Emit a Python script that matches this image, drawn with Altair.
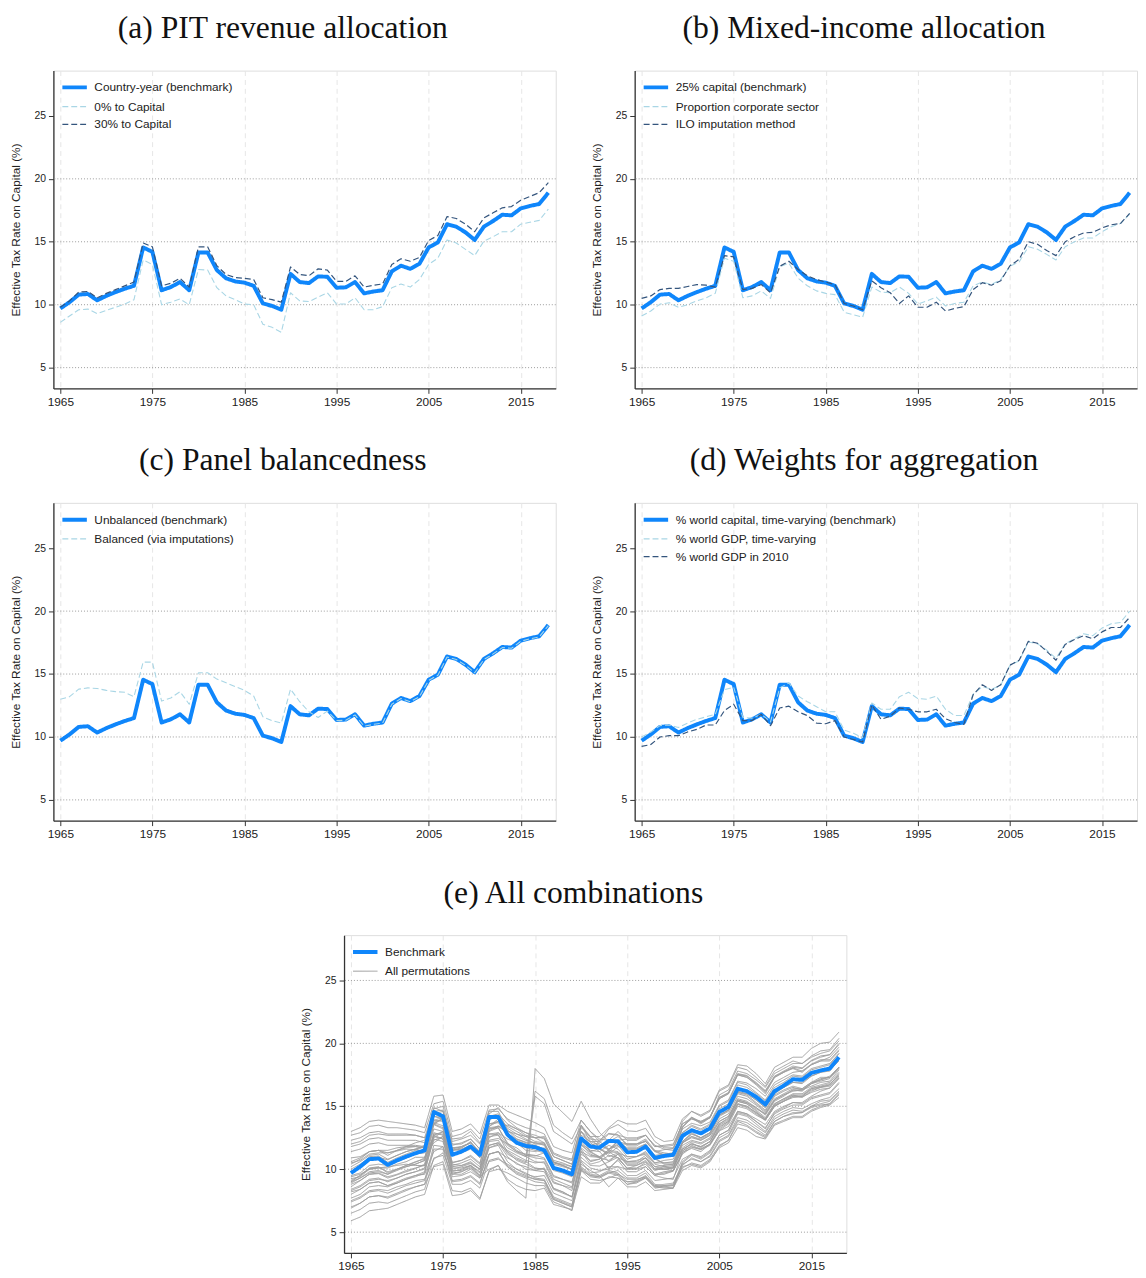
import altair as alt
import pandas as pd

years = list(range(1965, 2019))

benchmark = [
    9.7, 10.2, 10.8, 10.85, 10.35, 10.7, 11.0, 11.27, 11.5, 14.55,
    14.2, 11.15, 11.4, 11.8, 11.15, 14.15, 14.15, 12.75, 12.1, 11.85,
    11.75, 11.5, 10.1, 9.9, 9.6, 12.45, 11.8, 11.72, 12.25, 12.22,
    11.35, 11.38, 11.8, 10.9, 11.05, 11.15, 12.65, 13.1, 12.85, 13.25,
    14.55, 14.95, 16.4, 16.2, 15.75, 15.15, 16.2, 16.65, 17.15, 17.1,
    17.65, 17.85, 18.0, 18.9]

pit_zero = [
    8.6, 9.1, 9.6, 9.65, 9.3, 9.55, 9.8, 10.05, 10.4, 13.55,
    13.2, 10.0, 10.2, 10.45, 10.0, 12.8, 12.75, 11.35, 10.7, 10.4,
    10.05, 10.0, 8.45, 8.2, 7.8, 10.95, 10.3, 10.25, 10.6, 10.95,
    10.05, 10.05, 10.55, 9.6, 9.6, 9.85, 11.35, 11.65, 11.4, 12.0,
    13.2, 13.7, 15.15, 14.9, 14.4, 13.9, 15.05, 15.4, 15.8, 15.8,
    16.4, 16.55, 16.7, 17.6]

pit_thirty = [
    9.8, 10.3, 11.0, 11.05, 10.55, 10.9, 11.2, 11.5, 11.8, 14.9,
    14.6, 11.5, 11.7, 12.1, 11.4, 14.6, 14.6, 13.1, 12.4, 12.15,
    12.1, 12.0, 10.55, 10.4, 10.2, 13.0, 12.4, 12.3, 12.85, 12.75,
    11.85, 11.85, 12.3, 11.4, 11.55, 11.65, 13.2, 13.65, 13.45, 13.75,
    15.1, 15.5, 17.0, 16.85, 16.4, 15.8, 16.9, 17.3, 17.7, 17.8,
    18.3, 18.6, 18.9, 19.7]

mix_prop = [
    9.1, 9.5, 10.05, 10.15, 9.8, 10.0, 10.3, 10.55, 10.9, 13.7,
    13.45, 10.55, 10.7, 11.1, 10.5, 13.0, 13.3, 12.1, 11.5, 11.1,
    10.9, 10.8, 9.4, 9.2, 9.0, 11.4, 11.0, 10.95, 11.4, 10.9,
    10.05, 10.3, 10.6, 9.9, 10.1, 10.2, 11.5, 11.8, 11.6, 12.0,
    13.05, 13.4, 14.6, 14.4, 14.0, 13.55, 14.6, 15.0, 15.3, 15.3,
    15.8, 16.2, 16.45, 17.2]

mix_ilo = [
    10.5, 10.7, 11.2, 11.3, 11.3, 11.45, 11.6, 11.55, 11.4, 13.9,
    13.8, 11.2, 11.3, 11.6, 10.95, 13.05, 13.45, 12.8, 12.3, 12.0,
    11.8, 11.6, 10.1, 9.9, 9.6, 11.9, 11.35, 10.95, 10.1, 10.7,
    9.8, 9.8, 10.2, 9.5, 9.7, 9.85, 11.2, 11.75, 11.55, 11.9,
    13.1, 13.6, 15.0, 14.8, 14.3, 13.9, 15.0, 15.4, 15.7, 15.75,
    16.1, 16.35, 16.45, 17.25]

balanced = [
    13.0, 13.2, 13.8, 13.9, 13.85, 13.7, 13.6, 13.55, 13.2, 15.95,
    15.95, 12.85, 13.1, 13.6, 12.6, 15.1, 15.1, 14.6, 14.3, 14.0,
    13.7, 13.25, 11.6, 11.3, 11.1, 13.8, 12.8, 12.0, 11.55, 12.05,
    11.3, 11.33, 11.75, 10.85, 11.0, 11.1, 12.6, 13.05, 12.8, 13.2,
    14.5, 14.9, 16.35, 16.15, 15.7, 15.1, 16.15, 16.6, 17.1, 17.05,
    17.6, 17.8, 17.95, 18.85]

w_gdp = [
    10.0, 10.4, 10.9, 10.95, 10.75, 11.1, 11.4, 11.6, 11.8, 13.75,
    13.95, 11.55, 11.5, 11.8, 11.2, 13.9, 14.3, 13.25, 12.8, 12.4,
    12.0, 12.0, 10.55, 10.3, 9.95, 12.7, 12.2, 12.2, 13.2, 13.55,
    13.05, 13.0, 13.25, 12.2, 11.7, 11.7, 13.4, 14.0, 13.8, 14.1,
    15.7, 16.05, 17.55, 17.4, 16.9, 16.25, 17.4, 17.8, 18.2, 18.05,
    18.65, 19.0, 19.1, 20.0]

w_gdp2010 = [
    9.25, 9.4, 10.0, 10.1, 10.1, 10.4, 10.6, 10.95, 10.95, 12.1,
    12.6, 11.3, 11.3, 11.8, 10.9, 12.3, 12.45, 12.0, 11.7, 11.1,
    11.05, 11.3, 10.0, 9.8, 9.6, 12.55, 11.4, 11.65, 12.3, 12.2,
    12.0, 12.0, 12.2, 11.45, 11.15, 11.0, 13.35, 14.15, 13.7, 14.15,
    15.7, 16.1, 17.6, 17.45, 16.8, 16.1, 17.35, 17.75, 18.05, 17.8,
    18.35, 18.7, 18.7, 19.5]

perm_01 = [13.0, 13.3, 13.8, 13.9, 13.8, 13.7, 13.6, 13.5, 13.3, 15.8,
           15.9, 13.0, 13.2, 13.6, 12.8, 15.1, 15.1, 14.6, 14.3, 14.0,
           13.7, 13.3, 11.8, 11.5, 11.3, 13.9, 13.0, 12.4, 12.3, 13.0,
           12.3, 12.3, 12.7, 11.8, 11.9, 12.0, 13.6, 14.0, 13.7, 14.1,
           15.9, 16.3, 17.8, 17.6, 17.1, 16.5, 17.6, 18.0, 18.4, 18.4,
           18.9, 19.2, 19.4, 20.2]
perm_02 = [12.7, 12.9, 13.4, 13.5, 13.3, 13.3, 13.2, 13.1, 12.9, 15.2,
           15.4, 12.6, 12.8, 13.2, 12.4, 14.7, 14.8, 14.0, 13.6, 13.3,
           13.1, 12.8, 11.3, 11.0, 10.8, 13.5, 12.6, 12.0, 11.5, 12.3,
           12.4, 12.4, 12.7, 11.8, 11.8, 11.9, 13.6, 14.1, 13.8, 14.2,
           15.6, 16.0, 17.5, 17.3, 16.8, 16.2, 17.3, 17.7, 18.1, 18.0,
           18.6, 18.9, 19.1, 19.9]
perm_03 = [12.3, 12.5, 12.9, 13.0, 12.8, 12.8, 12.8, 12.7, 12.5, 14.8,
           15.0, 12.2, 12.4, 12.7, 12.0, 14.2, 14.4, 13.6, 13.2, 12.9,
           12.7, 12.4, 11.0, 10.7, 10.4, 13.0, 12.1, 11.6, 11.2, 11.8,
           11.6, 11.6, 12.0, 11.1, 11.2, 11.3, 12.9, 13.4, 13.1, 13.5,
           14.8, 15.2, 16.7, 16.5, 16.0, 15.4, 16.5, 16.9, 17.4, 17.3,
           17.9, 18.1, 18.3, 19.2]
perm_04 = [11.8, 12.0, 12.4, 12.5, 12.3, 12.3, 12.3, 12.3, 12.1, 14.4,
           14.6, 11.6, 11.8, 12.1, 11.4, 13.6, 13.7, 12.8, 12.4, 12.1,
           11.9, 11.6, 10.1, 9.8, 9.5, 12.0, 11.2, 10.9, 10.7, 11.2,
           10.4, 10.4, 10.9, 10.0, 10.0, 10.1, 11.6, 12.0, 11.8, 12.2,
           13.5, 13.9, 15.4, 15.2, 14.7, 14.1, 15.2, 15.6, 16.0, 16.0,
           16.5, 16.7, 16.9, 17.7]
perm_05 = [11.4, 11.6, 12.0, 12.1, 11.9, 11.9, 11.9, 11.9, 11.8, 13.9,
           14.1, 11.9, 12.1, 12.4, 11.6, 13.2, 13.4, 13.0, 12.8, 12.6,
           12.5, 12.1, 10.7, 10.5, 10.2, 12.2, 11.4, 11.0, 10.0, 10.8,
           10.1, 10.1, 10.4, 9.6, 9.8, 9.9, 11.3, 11.9, 11.6, 12.0,
           13.3, 13.8, 15.2, 15.0, 14.5, 14.0, 15.1, 15.5, 15.9, 15.9,
           16.4, 16.6, 16.8, 17.4]
perm_06 = [10.4, 10.8, 11.4, 11.5, 11.1, 11.5, 11.8, 12.1, 12.3, 14.6,
           14.7, 12.0, 12.0, 12.4, 11.6, 14.4, 14.9, 13.9, 13.3, 12.9,
           12.5, 12.5, 11.0, 10.7, 10.4, 13.3, 12.6, 12.6, 13.3, 13.9,
           13.6, 13.6, 13.9, 12.6, 12.2, 12.3, 14.0, 14.6, 14.3, 14.7,
           16.3, 16.7, 18.3, 18.2, 17.6, 16.8, 18.1, 18.5, 18.9, 18.9,
           19.6, 20.0, 20.1, 20.9]
perm_07 = [10.9, 11.0, 11.4, 11.5, 11.3, 11.5, 11.7, 11.8, 11.7, 13.6,
           14.0, 11.7, 11.8, 12.1, 11.2, 13.4, 14.0, 13.4, 13.0, 12.6,
           12.2, 12.1, 10.6, 10.3, 10.0, 12.5, 11.9, 11.6, 11.3, 12.3,
           11.6, 11.6, 11.7, 10.8, 10.5, 10.5, 12.2, 12.8, 12.5, 12.9,
           14.3, 14.7, 16.1, 16.0, 15.5, 14.9, 16.0, 16.5, 16.9, 16.9,
           17.4, 17.7, 17.9, 18.6]
perm_08 = list(pit_thirty)
perm_09 = list(pit_zero)
perm_10 = list(mix_prop)
perm_11 = list(mix_ilo)
perm_12 = list(w_gdp)
perm_13 = list(w_gdp2010)
perm_14 = [8.0, 8.4, 8.9, 9.0, 8.7, 8.9, 9.2, 9.4, 9.7, 12.7,
           12.4, 9.4, 9.5, 9.8, 9.3, 11.7, 11.9, 10.6, 10.0, 9.7,
           9.3, 9.2, 7.8, 7.5, 7.2, 9.9, 9.5, 9.4, 9.8, 9.6,
           8.8, 9.0, 9.4, 8.6, 8.7, 8.8, 10.2, 10.4, 10.2, 10.7,
           11.7, 12.1, 13.3, 13.1, 12.6, 12.4, 13.5, 13.8, 14.1, 14.1,
           14.6, 14.9, 15.1, 15.7]
perm_15 = [9.4, 9.6, 10.0, 10.1, 10.2, 10.3, 10.4, 10.3, 10.3, 12.8,
           12.8, 10.1, 10.1, 10.3, 9.8, 11.7, 12.0, 11.4, 10.9, 10.6,
           10.1, 10.0, 8.5, 8.2, 7.8, 10.4, 9.9, 9.5, 8.6, 9.3,
           8.6, 8.6, 9.0, 8.3, 8.4, 8.5, 9.9, 10.3, 10.1, 10.6,
           11.8, 12.3, 13.8, 13.5, 13.0, 12.6, 13.8, 14.2, 14.4, 14.5,
           14.9, 15.1, 15.2, 16.0]
perm_16 = [7.5, 7.8, 8.3, 8.4, 8.3, 8.6, 8.8, 9.1, 9.2, 10.8,
           11.3, 9.6, 9.6, 10.0, 9.3, 10.6, 10.8, 10.4, 10.0, 9.6,
           9.4, 9.5, 8.1, 7.8, 7.5, 10.6, 9.7, 9.8, 10.2, 10.2,
           10.0, 10.0, 10.2, 9.5, 9.3, 9.2, 11.4, 12.1, 11.7, 12.2,
           13.6, 14.0, 15.4, 15.2, 14.6, 14.0, 15.2, 15.6, 15.9, 15.7,
           16.2, 16.5, 16.6, 17.3]
perm_17 = [5.9, 6.2, 6.7, 6.8, 6.9, 7.2, 7.5, 7.8, 8.0, 10.3,
           10.6, 8.3, 8.2, 8.5, 7.7, 9.8, 10.0, 9.7, 9.3, 8.9,
           8.7, 8.7, 7.4, 7.1, 6.7, 9.9, 9.2, 9.1, 9.3, 9.6,
           9.2, 9.2, 9.4, 8.7, 8.6, 8.5, 10.5, 11.1, 10.8, 11.3,
           12.5, 12.9, 14.4, 14.2, 13.6, 13.0, 14.2, 14.6, 14.9, 14.8,
           15.2, 15.5, 15.7, 16.4]
perm_18 = [6.5, 6.8, 7.3, 7.4, 7.3, 7.6, 7.9, 8.2, 8.4, 10.9,
           11.1, 8.8, 8.8, 9.1, 8.5, 10.7, 10.9, 10.2, 9.7, 9.4,
           9.2, 9.1, 7.6, 7.3, 7.0, 10.1, 9.5, 9.4, 9.7, 9.9,
           9.3, 9.3, 9.7, 8.8, 8.7, 8.7, 10.6, 11.2, 10.9, 11.4,
           12.7, 13.1, 14.6, 14.4, 13.8, 13.2, 14.5, 14.9, 15.3, 15.2,
           15.7, 15.9, 16.1, 16.9]
perm_19 = [6.9, 7.3, 7.8, 7.9, 7.7, 8.0, 8.3, 8.6, 8.8, 11.6,
           11.6, 9.0, 9.1, 9.4, 8.8, 11.2, 11.4, 10.3, 9.8, 9.5,
           9.2, 9.1, 7.7, 7.4, 7.1, 10.2, 9.6, 9.5, 9.9, 9.7,
           9.0, 9.1, 9.5, 8.7, 8.8, 8.9, 10.4, 10.8, 10.6, 11.0,
           12.2, 12.6, 13.9, 13.7, 13.2, 12.7, 13.8, 14.2, 14.5, 14.5,
           15.0, 15.2, 15.4, 16.1]
perm_20 = [8.2, 8.4, 8.9, 9.0, 8.7, 9.0, 9.3, 9.5, 9.8, 12.4,
           12.2, 9.6, 9.8, 10.2, 9.4, 10.0, 10.3, 9.0, 8.3, 7.7,
           18.0, 17.2, 15.2, 14.5, 13.8, 15.4, 14.0, 12.9, 12.2, 12.6,
           12.0, 12.0, 12.4, 11.5, 11.3, 11.2, 12.9, 13.5, 13.2, 13.6,
           15.0, 15.4, 16.9, 16.7, 16.1, 15.5, 16.7, 17.1, 17.5, 17.4,
           18.0, 18.2, 18.4, 19.2]
perm_21 = [9.0, 9.3, 9.8, 9.9, 9.6, 9.9, 10.2, 10.4, 10.7, 13.2,
           13.0, 10.3, 10.5, 10.8, 10.2, 12.6, 12.7, 11.7, 11.3, 11.0,
           16.2, 15.6, 13.5, 12.9, 12.4, 13.9, 13.0, 12.2, 11.6, 11.9,
           11.0, 11.0, 11.4, 10.5, 10.5, 10.6, 12.1, 12.6, 12.3, 12.7,
           14.0, 14.4, 15.8, 15.6, 15.1, 14.5, 15.6, 16.0, 16.4, 16.4,
           16.9, 17.1, 17.3, 18.1]
perm_22 = [8.4, 8.7, 9.2, 9.3, 9.0, 9.3, 9.6, 9.8, 10.1, 12.9,
           12.7, 9.8, 10.0, 10.3, 9.7, 12.2, 12.3, 11.2, 10.8, 10.5,
           15.8, 15.2, 13.0, 12.5, 12.0, 13.4, 12.5, 11.7, 11.0, 11.3,
           10.5, 10.5, 10.9, 10.0, 10.0, 10.1, 11.6, 12.0, 11.8, 12.2,
           13.4, 13.8, 15.2, 15.0, 14.5, 13.9, 15.0, 15.4, 15.8, 15.8,
           16.3, 16.5, 16.7, 17.5]
perm_23 = [9.0, 9.5, 10.1, 10.2, 9.7, 10.0, 10.3, 10.6, 10.8, 13.6,
           13.3, 10.5, 10.7, 11.0, 10.4, 13.2, 13.3, 12.0, 11.4, 11.2,
           11.1, 10.9, 9.5, 9.2, 8.9, 11.7, 11.1, 11.0, 11.5, 11.4,
           10.6, 10.6, 11.1, 10.2, 10.3, 10.4, 11.9, 12.3, 12.1, 12.5,
           13.8, 14.2, 15.6, 15.4, 14.9, 14.3, 15.4, 15.8, 16.3, 16.2,
           16.8, 17.0, 17.2, 18.0]
perm_24 = [9.5, 9.7, 10.3, 10.4, 10.3, 10.6, 10.9, 11.2, 11.3, 12.5,
           13.0, 11.7, 11.7, 12.2, 11.3, 12.8, 12.9, 12.4, 12.1, 11.5,
           11.4, 11.7, 10.4, 10.2, 10.0, 13.0, 11.9, 12.1, 12.8, 12.7,
           12.5, 12.5, 12.7, 11.9, 11.6, 11.5, 13.8, 14.6, 14.2, 14.6,
           16.2, 16.6, 18.1, 17.9, 17.3, 16.6, 17.8, 18.2, 18.6, 18.4,
           19.0, 19.4, 19.5, 20.4]
perm_25 = [8.9, 9.3, 9.7, 9.8, 9.6, 10.0, 10.2, 10.4, 10.7, 12.7,
           13.0, 10.4, 10.3, 10.5, 10.0, 12.5, 12.9, 11.9, 11.4, 11.0,
           10.6, 10.5, 9.0, 8.7, 8.3, 11.2, 10.7, 10.8, 11.6, 12.2,
           11.7, 11.7, 12.0, 10.9, 10.4, 10.4, 12.1, 12.6, 12.4, 12.8,
           14.3, 14.7, 16.2, 16.0, 15.5, 14.9, 16.1, 16.5, 16.9, 16.8,
           17.4, 17.7, 17.8, 18.7]
perm_26 = [7.7, 8.0, 8.6, 8.7, 8.6, 8.9, 9.2, 9.5, 9.6, 11.4,
           11.8, 9.9, 9.9, 10.3, 9.5, 11.2, 11.4, 10.9, 10.5, 10.0,
           9.9, 10.1, 8.9, 8.7, 8.5, 11.4, 10.4, 10.6, 11.1, 10.9,
           10.6, 10.7, 10.9, 10.2, 10.0, 9.9, 12.1, 12.8, 12.5, 12.9,
           14.2, 14.6, 16.0, 15.8, 15.2, 14.6, 15.8, 16.2, 16.5, 16.3,
           16.8, 17.2, 17.3, 18.1]
perm_27 = [10.2, 10.6, 11.1, 11.2, 10.8, 11.1, 11.4, 11.6, 11.9, 14.2,
           14.0, 11.2, 11.4, 11.8, 11.1, 13.6, 13.8, 12.6, 12.0, 11.7,
           11.5, 11.3, 9.9, 9.7, 9.4, 12.0, 11.5, 11.4, 11.9, 11.6,
           10.8, 11.0, 11.3, 10.5, 10.7, 10.8, 12.1, 12.5, 12.3, 12.7,
           13.8, 14.2, 15.5, 15.3, 14.9, 14.4, 15.5, 15.9, 16.3, 16.3,
           16.8, 17.1, 17.4, 18.1]
perm_28 = [8.8, 9.1, 9.6, 9.7, 9.4, 9.6, 9.9, 10.1, 10.3, 12.3,
           12.6, 10.2, 10.3, 10.6, 10.0, 11.9, 12.1, 11.5, 11.1, 10.7,
           10.5, 10.6, 9.2, 8.9, 8.6, 11.6, 10.6, 10.8, 11.4, 11.3,
           11.0, 11.0, 11.2, 10.4, 10.2, 10.1, 12.2, 12.9, 12.5, 12.9,
           14.3, 14.7, 16.1, 15.9, 15.3, 14.7, 15.9, 16.3, 16.6, 16.4,
           16.9, 17.3, 17.3, 18.1]
perm_29 = [8.3, 8.6, 9.1, 9.2, 9.1, 9.3, 9.6, 9.8, 10.0, 12.6,
           12.4, 9.7, 9.8, 10.1, 9.5, 11.9, 12.1, 11.0, 10.4, 10.2,
           9.9, 9.8, 8.4, 8.1, 7.8, 10.7, 10.1, 9.9, 10.0, 10.2,
           9.5, 9.5, 9.9, 9.1, 9.2, 9.3, 10.8, 11.2, 11.0, 11.5,
           12.7, 13.1, 14.5, 14.3, 13.8, 13.3, 14.4, 14.8, 15.1, 15.1,
           15.6, 15.8, 16.0, 16.8]
perm_30 = [10.6, 10.9, 11.4, 11.5, 11.5, 11.7, 11.8, 11.8, 11.7, 14.2,
           14.1, 11.5, 11.6, 11.9, 11.2, 13.4, 13.8, 13.1, 12.6, 12.3,
           12.1, 11.9, 10.5, 10.3, 10.0, 12.4, 11.9, 11.4, 10.6, 11.2,
           10.3, 10.3, 10.7, 10.0, 10.2, 10.3, 11.7, 12.2, 12.0, 12.4,
           13.6, 14.1, 15.5, 15.3, 14.8, 14.4, 15.5, 15.9, 16.2, 16.3,
           16.6, 16.9, 17.0, 17.9]
perm_31 = [7.4, 7.7, 8.2, 8.3, 8.1, 8.4, 8.7, 8.9, 9.1, 11.9,
           11.8, 9.1, 9.2, 9.5, 8.9, 11.2, 11.4, 10.2, 9.6, 9.3,
           9.0, 8.9, 7.6, 7.3, 7.0, 10.0, 9.4, 9.3, 9.7, 9.5,
           8.8, 8.9, 9.3, 8.5, 8.6, 8.7, 10.1, 10.5, 10.3, 10.8,
           11.9, 12.3, 13.6, 13.4, 12.9, 12.5, 13.6, 13.9, 14.2, 14.2,
           14.7, 15.0, 15.2, 15.9]
perm_32 = [12.0, 12.2, 12.7, 12.8, 12.7, 12.7, 12.7, 12.7, 12.5, 13.6,
           14.1, 12.4, 12.5, 13.0, 12.1, 13.3, 13.4, 13.5, 13.2, 12.7,
           12.5, 12.6, 11.2, 10.9, 10.7, 13.5, 12.2, 11.9, 11.6, 12.0,
           12.0, 12.0, 12.2, 11.4, 11.1, 11.0, 13.3, 14.1, 13.6, 14.1,
           15.6, 16.0, 17.5, 17.3, 16.7, 16.0, 17.3, 17.7, 18.0, 17.7,
           18.3, 18.6, 18.6, 19.4]
perm_33 = [7.0, 7.3, 7.8, 7.9, 7.8, 8.1, 8.4, 8.6, 8.8, 10.2,
           10.4, 7.9, 8.0, 8.3, 7.6, 9.9, 10.3, 9.2, 8.7, 8.4,
           8.3, 8.5, 7.2, 7.0, 6.8, 9.4, 8.9, 8.9, 9.4, 9.3,
           9.0, 9.0, 9.3, 8.6, 8.5, 8.5, 10.3, 10.9, 10.6, 11.1,
           12.3, 12.7, 14.1, 13.9, 13.4, 12.9, 14.0, 14.4, 14.7, 14.6,
           15.0, 15.4, 15.5, 16.2]

permutations = [perm_01, perm_02, perm_03, perm_04, perm_05, perm_06, perm_07,
                perm_08, perm_09, perm_10, perm_11, perm_12, perm_13, perm_14,
                perm_15, perm_16, perm_17, perm_18, perm_19, perm_20, perm_21,
                perm_22, perm_23, perm_24, perm_25, perm_26, perm_27, perm_28,
                perm_29, perm_30, perm_31, perm_32, perm_33]

for s in [benchmark, pit_zero, pit_thirty, mix_prop, mix_ilo, balanced, w_gdp, w_gdp2010] + permutations:
    assert len(s) == len(years), len(s)

x_ticks = [1965, 1975, 1985, 1995, 2005, 2015]
y_ticks = [5, 10, 15, 20, 25]

FONT = "Liberation Sans"
TFONT = "Liberation Serif"
BLUE = "#0f86fb"
LIGHT = "#a9d6e5"
DARK = "#34557d"
GRAY = "#9d9d9d"

XDOM = [1964.25, 2018.8]
YDOM = [3.35, 28.6]
W, H = 509, 322


def x_enc():
    return alt.X("year:Q", scale=alt.Scale(domain=XDOM, nice=False, zero=False),
                 axis=alt.Axis(values=x_ticks, format="d", title=None, grid=True,
                               gridDash=[5, 4], gridColor="#e6e6e6", gridWidth=1,
                               labelFont=FONT, labelFontSize=12, labelColor="#222",
                               labelPadding=3, tickSize=5, tickColor="#333",
                               domainColor="#333", domainWidth=1.3, labelFlush=False))


def y_enc():
    return alt.Y("value:Q", scale=alt.Scale(domain=YDOM, nice=False, zero=False),
                 axis=alt.Axis(values=y_ticks, title="Effective Tax Rate on Capital (%)",
                               grid=False, labelFont=FONT, labelFontSize=10.5,
                               labelColor="#222", labelPadding=3, tickSize=5,
                               tickColor="#333", domainColor="#333", domainWidth=1.3,
                               titleFont=FONT, titleFontSize=12, titleFontWeight="normal",
                               titleColor="#222", titlePadding=12))


def legend():
    return alt.Legend(title=None, orient="none", legendX=11.5, legendY=7, padding=0,
                      rowPadding=3, labelOffset=10, labelFont=FONT, labelFontSize=12,
                      labelColor="#222", labelLimit=600, symbolType="M-1.6,0H1.6",
                      symbolSize=240, direction="vertical")


def encs(names, colors, dashes, widths):
    leg = legend()
    return dict(
        color=alt.Color("series:N", scale=alt.Scale(domain=names, range=colors), legend=leg),
        strokeDash=alt.StrokeDash("series:N", scale=alt.Scale(type="ordinal", domain=names, range=dashes), legend=leg),
        strokeWidth=alt.StrokeWidth("series:N", scale=alt.Scale(type="ordinal", domain=names, range=widths), legend=leg),
    )


def title(text):
    return alt.TitleParams(text=text, font=TFONT, fontSize=32, fontWeight="normal",
                           color="#111", offset=26, anchor="middle", frame="bounds")


def grid_layer(vals):
    return alt.Chart(pd.DataFrame({"value": vals})).mark_rule(
        color="#9a9a9a", strokeDash=[1, 2], strokeWidth=1).encode(y=y_enc())


def panel(ttl, names, series, grid_vals):
    rows = []
    for n, s in zip(names, series):
        for yr, v in zip(years, s):
            rows.append({"year": yr, "value": v, "series": n})
    df = pd.DataFrame(rows)
    colors = [BLUE, LIGHT, DARK][:len(names)]
    dashes = [[1, 0], [6, 3], [6, 3]][:len(names)]
    widths = [4, 1.1, 1.2][:len(names)]
    e = encs(names, colors, dashes, widths)
    bench = alt.Chart(df[df.series == names[0]]).mark_line(strokeJoin="round").encode(
        x=x_enc(), y=y_enc(), **e)
    alts = alt.Chart(df[df.series != names[0]]).mark_line(strokeJoin="round").encode(
        x=x_enc(), y=y_enc(), **e)
    return alt.layer(grid_layer(grid_vals), bench, alts).properties(
        width=W, height=H, title=title(ttl))


pa = panel("(a) PIT revenue allocation",
           ["Country-year (benchmark)", "0% to Capital", "30% to Capital"],
           [benchmark, pit_zero, pit_thirty], [5, 10, 15, 20])
pb = panel("(b) Mixed-income allocation",
           ["25% capital (benchmark)", "Proportion corporate sector", "ILO imputation method"],
           [benchmark, mix_prop, mix_ilo], [5, 10, 15, 20])
pc = panel("(c) Panel balancedness",
           ["Unbalanced (benchmark)", "Balanced (via imputations)"],
           [benchmark, balanced], [5, 10, 15, 20])
pd_ = panel("(d) Weights for aggregation",
            ["% world capital, time-varying (benchmark)", "% world GDP, time-varying",
             "% world GDP in 2010"],
            [benchmark, w_gdp, w_gdp2010], [5, 10, 15, 20])

# panel (e)
e_names = ["Benchmark", "All permutations"]
prow = []
for i, s in enumerate(permutations):
    for yr, v in zip(years, s):
        prow.append({"year": yr, "value": v, "series": "All permutations", "perm": i})
perm_df = pd.DataFrame(prow)
bench_df = pd.DataFrame({"year": years, "value": benchmark, "series": "Benchmark"})
ee = encs(e_names, [BLUE, GRAY], [[1, 0], [1, 0]], [4, 1])
perm_layer = alt.Chart(perm_df).mark_line(strokeJoin="round").encode(
    x=x_enc(), y=y_enc(), detail="perm:N", **ee)
bench_layer = alt.Chart(bench_df).mark_line(strokeJoin="round").encode(
    x=x_enc(), y=y_enc(), **ee)
pe = alt.layer(grid_layer([5, 10, 15, 20, 25]), perm_layer, bench_layer).properties(
    width=W, height=H, title=title("(e) All combinations"))

ind = dict(color="independent", strokeDash="independent", strokeWidth="independent")
row1 = alt.hconcat(pa, pb, spacing=33).resolve_scale(**ind)
row2 = alt.hconcat(pc, pd_, spacing=33).resolve_scale(**ind)
chart = alt.vconcat(row1, row2, pe, spacing=36, center=True).resolve_scale(**ind)
chart = chart.properties(padding={"left": 0, "top": -5, "right": 0, "bottom": 0}).configure_view(
    stroke=None).configure(background="white")

chart.save("out.html", embed_options={"renderer": "svg", "actions": False})
